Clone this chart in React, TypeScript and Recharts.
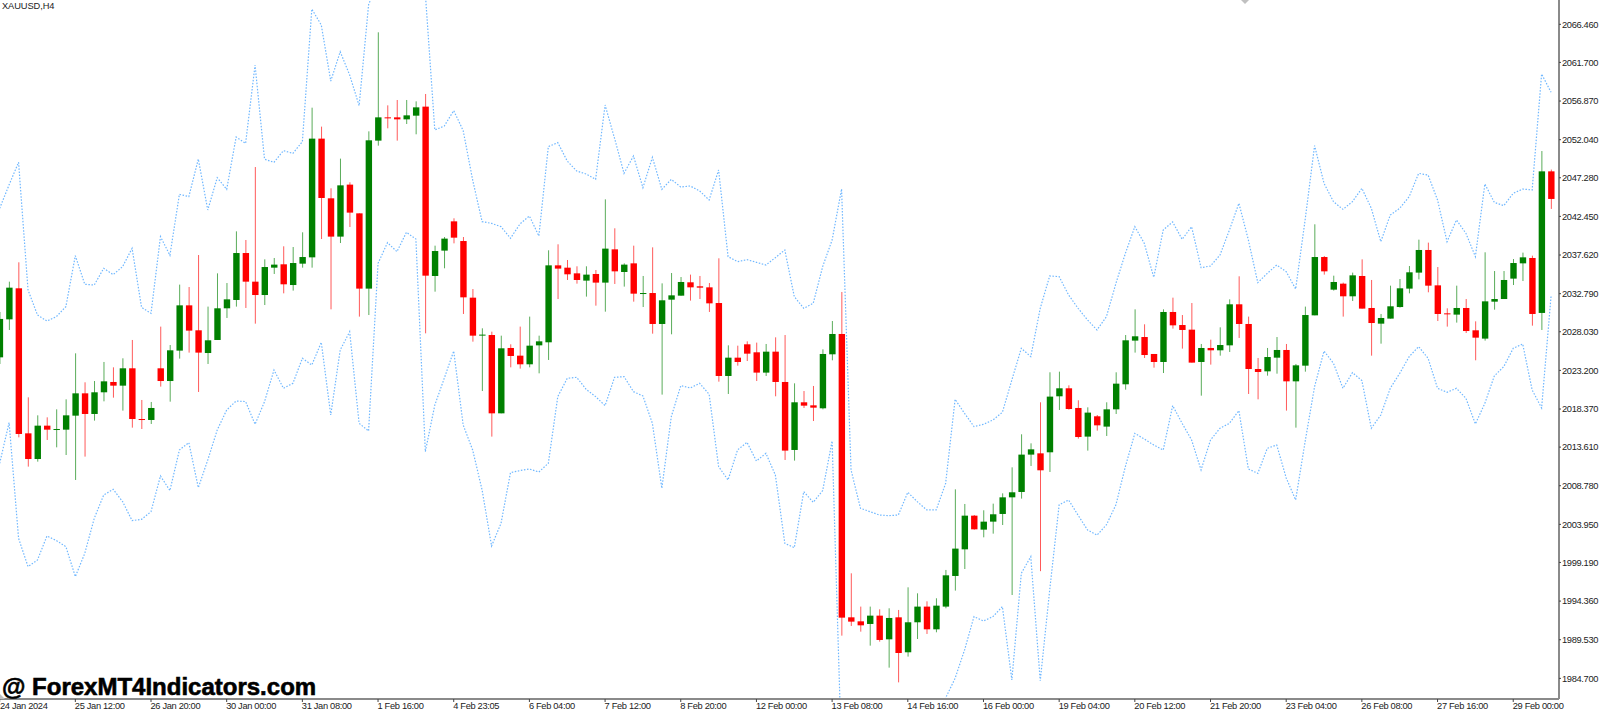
import { Bar, ComposedChart, Line, XAxis, YAxis } from "recharts";

// XAUUSD H4
const OPENS = [
  2024.83, 2029.58, 2033.46, 2015.33, 2012.12, 2016.29, 2015.79, 2015.79, 2017.54, 2020.33,
  2017.75, 2020.46, 2021.75, 2021.29, 2023.46, 2017.12, 2017.0, 2023.46, 2021.87, 2025.67,
  2031.33, 2028.21, 2025.37, 2027.0, 2030.96, 2032.0, 2037.87, 2034.29, 2032.62, 2036.04,
  2036.46, 2033.87, 2036.54, 2037.33, 2052.17, 2044.71, 2039.92, 2046.42, 2042.83, 2033.42,
  2051.92, 2054.83, 2054.83, 2054.58, 2055.04, 2056.17, 2035.0, 2038.17, 2041.83, 2039.37,
  2032.29, 2027.58, 2027.62, 2017.83, 2026.0, 2025.04, 2023.96, 2026.33, 2026.71, 2036.33,
  2036.04, 2035.33, 2034.42, 2035.25, 2034.17, 2038.33, 2035.5, 2036.58, 2032.79, 2032.87,
  2029.0, 2032.04, 2032.54, 2034.21, 2033.71, 2033.58, 2031.62, 2022.5, 2024.79, 2026.46,
  2025.46, 2022.92, 2025.54, 2021.75, 2013.25, 2019.21, 2018.83, 2018.46, 2025.21, 2027.75,
  1992.33, 1991.83, 1991.5, 1992.54, 1989.58, 1992.33, 1987.96, 1991.71, 1993.67, 1990.83,
  1993.67, 1997.5, 2000.83, 2005.04, 2003.29, 2004.29, 2005.25, 2007.33, 2008.0, 2012.67,
  2012.83, 2012.96, 2019.96, 2020.96, 2018.5, 2014.92, 2017.46, 2016.17, 2018.33, 2021.46,
  2026.92, 2027.37, 2025.25, 2024.25, 2030.5, 2028.87, 2028.29, 2024.25, 2026.0, 2025.71,
  2026.33, 2031.46, 2029.0, 2023.37, 2023.08, 2024.79, 2025.75, 2021.83, 2023.79, 2030.08,
  2037.37, 2033.29, 2034.04, 2032.46, 2035.0, 2031.0, 2029.04, 2029.67, 2031.12, 2033.42,
  2035.42, 2038.25, 2033.83, 2030.33, 2030.17, 2031.0, 2028.21, 2027.17, 2031.79, 2032.12,
  2034.67, 2036.58, 2037.25, 2030.38, 2048.08,
];
const HIGHS = [
  2030.5, 2034.29, 2036.71, 2019.83, 2017.58, 2017.33, 2018.33, 2019.58, 2025.33, 2021.71,
  2021.87, 2024.25, 2023.58, 2024.71, 2027.0, 2019.5, 2019.25, 2028.67, 2026.37, 2033.92,
  2033.62, 2037.62, 2031.17, 2035.33, 2034.12, 2040.58, 2039.5, 2048.62, 2037.08, 2037.25,
  2038.71, 2038.62, 2040.46, 2056.04, 2053.67, 2045.96, 2049.67, 2046.71, 2042.83, 2053.08,
  2065.46, 2056.33, 2057.0, 2057.0, 2056.83, 2057.75, 2038.79, 2039.87, 2042.21, 2039.87,
  2033.37, 2028.46, 2028.04, 2027.54, 2026.46, 2028.67, 2029.92, 2027.54, 2038.21, 2038.96,
  2037.0, 2036.21, 2036.21, 2035.75, 2044.58, 2040.96, 2036.58, 2038.79, 2035.0, 2038.58,
  2034.08, 2035.37, 2034.87, 2035.17, 2035.0, 2034.12, 2037.21, 2026.33, 2026.29, 2026.83,
  2026.67, 2026.5, 2027.33, 2027.62, 2021.58, 2020.62, 2021.25, 2025.83, 2029.37, 2033.0,
  1997.83, 1993.67, 1993.67, 1993.33, 1993.46, 1993.25, 1996.08, 1995.33, 1994.33, 1994.71,
  1998.25, 2008.33, 2006.5, 2005.12, 2005.71, 2006.54, 2007.83, 2011.08, 2015.21, 2014.08,
  2019.21, 2022.96, 2023.04, 2021.33, 2019.46, 2018.58, 2017.62, 2019.21, 2022.96, 2027.62,
  2030.83, 2028.96, 2025.25, 2030.83, 2032.29, 2030.12, 2031.62, 2026.5, 2027.04, 2028.58,
  2032.08, 2034.96, 2029.92, 2024.75, 2026.0, 2027.37, 2026.5, 2024.0, 2031.17, 2041.46,
  2037.5, 2035.04, 2034.17, 2035.42, 2037.08, 2034.5, 2030.25, 2033.79, 2034.62, 2036.25,
  2039.54, 2039.17, 2036.12, 2030.96, 2033.79, 2032.12, 2029.33, 2037.96, 2035.62, 2035.62,
  2037.12, 2037.92, 2037.54, 2050.62, 2048.3,
];
const LOWS = [
  2024.0, 2028.25, 2014.83, 2011.17, 2011.79, 2014.5, 2013.58, 2012.62, 2009.5, 2012.42,
  2016.92, 2019.33, 2019.79, 2018.17, 2016.04, 2015.87, 2016.5, 2021.17, 2019.29, 2024.67,
  2025.42, 2020.5, 2024.0, 2027.0, 2029.75, 2031.17, 2031.0, 2029.04, 2031.37, 2035.25,
  2032.83, 2033.17, 2036.04, 2036.04, 2039.62, 2030.83, 2039.12, 2041.12, 2029.92, 2030.12,
  2051.29, 2053.46, 2051.92, 2054.0, 2052.71, 2027.83, 2033.04, 2035.96, 2039.08, 2030.25,
  2026.79, 2020.62, 2014.92, 2017.83, 2023.58, 2023.42, 2023.58, 2022.83, 2024.5, 2032.12,
  2034.5, 2034.04, 2032.42, 2031.29, 2030.54, 2034.0, 2033.67, 2031.79, 2031.12, 2027.79,
  2020.17, 2027.71, 2032.54, 2031.92, 2032.12, 2030.5, 2021.79, 2020.25, 2023.79, 2024.37,
  2021.87, 2022.5, 2019.96, 2012.0, 2011.92, 2018.5, 2016.87, 2018.33, 2024.46, 1990.04,
  1991.25, 1990.54, 1988.79, 1989.29, 1986.04, 1984.2, 1987.42, 1989.62, 1990.25, 1990.46,
  1993.46, 1995.67, 1998.37, 2003.29, 2002.33, 2002.79, 2003.87, 1995.12, 2007.17, 2011.25,
  1998.1, 2010.5, 2018.25, 2018.29, 2014.67, 2013.17, 2015.67, 2015.0, 2017.75, 2020.79,
  2025.42, 2024.75, 2023.54, 2022.87, 2028.42, 2025.92, 2024.17, 2020.04, 2023.92, 2025.04,
  2025.5, 2027.25, 2020.25, 2019.58, 2022.54, 2022.79, 2018.17, 2016.04, 2023.04, 2030.08,
  2035.17, 2033.17, 2029.92, 2031.87, 2030.92, 2025.04, 2026.54, 2029.67, 2031.04, 2032.83,
  2034.58, 2032.96, 2029.37, 2028.67, 2029.17, 2027.87, 2024.46, 2026.92, 2030.79, 2032.12,
  2033.87, 2034.37, 2028.79, 2028.25, 2043.38,
];
const CLOSES = [
  2029.63, 2033.54, 2015.25, 2012.12, 2016.29, 2015.79, 2015.87, 2017.58, 2020.33, 2017.75,
  2020.46, 2021.83, 2021.29, 2023.46, 2017.12, 2017.04, 2018.5, 2021.87, 2025.71, 2031.33,
  2028.17, 2025.42, 2026.96, 2030.96, 2032.08, 2037.87, 2034.29, 2032.62, 2036.12, 2036.42,
  2033.96, 2036.62, 2037.37, 2052.17, 2044.75, 2039.92, 2046.33, 2042.92, 2033.42, 2051.96,
  2054.83, 2054.79, 2054.58, 2055.08, 2056.08, 2035.04, 2038.12, 2039.67, 2039.79, 2032.33,
  2027.54, 2027.67, 2017.83, 2025.96, 2025.0, 2023.96, 2026.29, 2026.83, 2036.33, 2035.92,
  2035.21, 2034.5, 2035.17, 2034.17, 2038.42, 2035.58, 2036.42, 2032.79, 2032.87, 2029.0,
  2031.96, 2032.58, 2034.25, 2033.58, 2033.54, 2031.58, 2022.5, 2024.79, 2024.25, 2025.29,
  2022.92, 2025.54, 2021.75, 2013.17, 2019.21, 2018.79, 2018.54, 2025.25, 2027.75, 1992.29,
  1991.79, 1991.33, 1992.54, 1989.5, 1992.25, 1987.87, 1991.71, 1993.67, 1990.83, 1993.79,
  1997.58, 2000.92, 2005.04, 2003.33, 2004.29, 2005.21, 2007.33, 2007.96, 2012.67, 2013.33,
  2010.71, 2019.92, 2020.96, 2018.37, 2014.87, 2017.92, 2016.33, 2018.33, 2021.54, 2026.96,
  2027.46, 2025.12, 2024.25, 2030.5, 2028.83, 2028.25, 2024.17, 2026.0, 2025.71, 2026.37,
  2031.46, 2029.0, 2023.37, 2023.0, 2024.87, 2025.75, 2021.83, 2023.83, 2030.12, 2037.37,
  2035.58, 2034.25, 2032.46, 2035.08, 2030.92, 2029.12, 2029.75, 2031.21, 2033.46, 2035.46,
  2038.25, 2033.79, 2030.25, 2030.21, 2031.0, 2028.12, 2027.29, 2031.83, 2032.12, 2034.5,
  2036.62, 2037.33, 2030.25, 2048.08, 2044.63,
];
const UPPER = [
  2043.46, 2046.4, 2049.21, 2033.25, 2030.12, 2029.37, 2029.92, 2031.17, 2037.54, 2033.96,
  2033.87, 2035.96, 2035.17, 2036.17, 2038.46, 2031.08, 2030.33, 2039.92, 2037.58, 2045.21,
  2044.92, 2049.62, 2043.25, 2047.29, 2045.83, 2052.37, 2051.58, 2061.37, 2049.6, 2049.21,
  2050.67, 2050.33, 2051.79, 2068.37, 2066.37, 2059.37, 2063.04, 2060.12, 2056.29, 2068.9,
  2072.0, 2075.0, 2076.0, 2075.0, 2073.0, 2070.3, 2053.25, 2053.75, 2055.67, 2053.17,
  2047.0, 2041.79, 2041.58, 2041.17, 2039.71, 2041.5, 2042.5, 2040.0, 2051.17, 2051.67,
  2049.37, 2048.12, 2047.75, 2047.08, 2056.37, 2052.21, 2047.83, 2050.0, 2046.04, 2049.83,
  2045.83, 2047.08, 2046.12, 2046.25, 2045.62, 2044.5, 2048.25, 2037.42, 2036.79, 2037.04,
  2036.71, 2036.37, 2037.29, 2038.25, 2032.42, 2030.96, 2031.58, 2036.17, 2039.5, 2045.87,
  2010.75, 2005.96, 2005.54, 2005.12, 2005.04, 2005.12, 2007.96, 2006.79, 2005.75, 2005.75,
  2009.08, 2019.58, 2017.83, 2016.17, 2016.46, 2017.0, 2017.96, 2022.0, 2025.96, 2024.92,
  2030.96, 2035.0, 2034.92, 2032.62, 2030.96, 2029.5, 2028.25, 2029.92, 2034.08, 2037.83,
  2041.17, 2039.08, 2034.83, 2040.75, 2041.75, 2039.58, 2041.17, 2036.04, 2036.25, 2037.62,
  2040.75, 2044.08, 2039.5, 2034.17, 2035.33, 2036.37, 2035.54, 2033.37, 2042.0, 2051.29,
  2046.58, 2044.29, 2043.33, 2044.29, 2045.96, 2043.46, 2039.29, 2042.62, 2043.46, 2044.92,
  2047.83, 2047.62, 2044.5, 2039.29, 2042.0, 2040.33, 2037.42, 2046.5, 2044.21, 2043.79,
  2045.33, 2045.87, 2045.75, 2060.25, 2057.96,
];
const LOWER = [
  2011.58, 2016.67, 2002.21, 1998.67, 1999.5, 2002.5, 2001.92, 2001.17, 1997.42, 2000.33,
  2004.71, 2007.62, 2008.33, 2006.79, 2004.42, 2004.58, 2005.54, 2010.0, 2008.17, 2013.25,
  2014.17, 2008.54, 2012.0, 2015.75, 2018.25, 2019.37, 2019.3, 2016.46, 2019.29, 2023.25,
  2020.96, 2021.58, 2024.71, 2023.87, 2026.71, 2017.62, 2025.75, 2028.04, 2016.58, 2015.62,
  2036.58, 2039.17, 2038.04, 2040.46, 2039.62, 2013.04, 2018.87, 2022.21, 2025.62, 2016.37,
  2013.25, 2008.25, 2001.25, 2004.08, 2010.42, 2010.67, 2010.87, 2010.5, 2011.58, 2019.92,
  2022.21, 2022.33, 2020.83, 2019.92, 2018.79, 2022.33, 2022.42, 2020.54, 2020.0, 2016.58,
  2008.46, 2017.42, 2021.29, 2021.0, 2021.58, 2020.21, 2011.17, 2009.5, 2013.25, 2014.21,
  2011.87, 2012.83, 2010.12, 2001.58, 2001.04, 2008.04, 2006.71, 2008.17, 2014.37, 1975.0,
  1978.0, 1975.0, 1973.0, 1972.0, 1971.0, 1972.0, 1974.0, 1976.0, 1978.0, 1980.0,
  1982.25, 1984.71, 1988.25, 1992.42, 1991.87, 1992.42, 1993.67, 1984.5, 1997.83, 1999.92,
  1984.4, 1995.75, 2006.4, 2007.0, 2005.1, 2003.25, 2002.6, 2003.9, 2006.4, 2011.17,
  2015.33, 2014.62, 2013.87, 2013.25, 2018.79, 2016.58, 2014.5, 2010.75, 2014.5, 2015.96,
  2016.58, 2018.17, 2010.87, 2010.33, 2013.46, 2013.87, 2009.75, 2007.0, 2014.29, 2021.17,
  2025.62, 2024.08, 2020.96, 2022.92, 2021.92, 2015.96, 2017.62, 2020.96, 2022.83, 2024.92,
  2026.17, 2024.71, 2020.96, 2020.46, 2020.96, 2019.71, 2016.5, 2019.08, 2022.5, 2023.67,
  2025.96, 2026.5, 2020.75, 2018.5, 2032.5,
];

const TIME_LABELS = [
  "24 Jan 2024", "25 Jan 12:00", "26 Jan 20:00", "30 Jan 00:00", "31 Jan 08:00", "1 Feb 16:00", "4 Feb 23:05",
  "6 Feb 04:00", "7 Feb 12:00", "8 Feb 20:00", "12 Feb 00:00", "13 Feb 08:00", "14 Feb 16:00", "16 Feb 00:00",
  "19 Feb 04:00", "20 Feb 12:00", "21 Feb 20:00", "23 Feb 04:00", "26 Feb 08:00", "27 Feb 16:00", "29 Feb 00:00",
];
const PRICE_TICKS = [
  2066.46, 2061.7, 2056.87, 2052.04, 2047.28, 2042.45, 2037.62, 2032.79, 2028.03, 2023.2,
  2018.37, 2013.61, 2008.78, 2003.95, 1999.19, 1994.36, 1989.53, 1984.7,
];

const FONT = "'Liberation Sans', sans-serif";
const BULL = "#008000";
const BEAR = "#ff0000";
const BAND = "#6fb7ff";

const rows = OPENS.map((open, i) => ({
  i,
  open,
  close: CLOSES[i],
  high: HIGHS[i],
  low: LOWS[i],
  range: [LOWS[i], HIGHS[i]],
  upper: UPPER[i],
  lower: LOWER[i],
}));

// eslint-disable-next-line @typescript-eslint/no-explicit-any
function Candle(props: any) {
  const { x, y, width, height, payload } = props;
  const { open, close, high, low } = payload;
  const color = close >= open ? BULL : BEAR;
  const perUnit = height / (high - low);
  const top = y + (high - Math.max(open, close)) * perUnit;
  const bodyH = Math.max(Math.abs(open - close) * perUnit, 1);
  const cx = x + width / 2;
  return (
    <g>
      <line x1={cx} x2={cx} y1={y} y2={y + height} stroke={color} strokeWidth={1} strokeOpacity={0.65} />
      <rect x={cx - 3.2} y={top} width={6.4} height={bodyH} fill={color} />
    </g>
  );
}

const tickText = { fontSize: 9.3, fontFamily: FONT, fill: "#222", letterSpacing: -0.33 };

// eslint-disable-next-line @typescript-eslint/no-explicit-any
function TimeTick({ x, y, payload }: any) {
  return (
    <text x={Math.max(x - 0.5, 0)} y={y + 5} {...tickText}>
      {TIME_LABELS[payload.value / 8]}
    </text>
  );
}

// eslint-disable-next-line @typescript-eslint/no-explicit-any
function PriceTick({ x, y, payload }: any) {
  return (
    <text x={x} y={y + 3.4} {...tickText}>
      {payload.value.toFixed(3)}
    </text>
  );
}

export default function App() {
  return (
    <div style={{ position: "absolute", left: 0, top: 0, width: 1600, height: 712, background: "#fff", overflow: "hidden" }}>
      <ComposedChart
        width={1600}
        height={712}
        data={rows}
        margin={{ top: 0, right: 0, bottom: 0, left: -5.08 }}
        barCategoryGap={0}
      >
        <XAxis
          dataKey="i"
          interval={7}
          padding={{ left: 0, right: 3.2 }}
          tick={<TimeTick />}
          tickSize={3}
          height={13}
          axisLine={{ stroke: "#8a8a8a", strokeWidth: 2 }}
          tickLine={{ stroke: "#444" }}
        />
        <YAxis
          orientation="right"
          width={41}
          domain={[1982.12, 2069.5]}
          ticks={PRICE_TICKS}
          interval={0}
          allowDataOverflow
          tick={<PriceTick />}
          tickSize={2}
          tickMargin={1}
          axisLine={{ stroke: "#8a8a8a", strokeWidth: 2 }}
          tickLine={{ stroke: "#444" }}
        />
        <Line dataKey="upper" stroke={BAND} strokeWidth={1.2} strokeDasharray="1.5 1.6" dot={false} activeDot={false} isAnimationActive={false} />
        <Line dataKey="lower" stroke={BAND} strokeWidth={1.2} strokeDasharray="1.5 1.6" dot={false} activeDot={false} isAnimationActive={false} />
        <Bar dataKey="range" barSize={6} shape={<Candle />} isAnimationActive={false} />
      </ComposedChart>
      <div style={{ position: "absolute", left: 2, top: 0, font: `9.3px ${FONT}`, letterSpacing: -0.1, color: "#222", lineHeight: "12px" }}>XAUUSD,H4</div>
      <div
        style={{
          position: "absolute",
          left: 2,
          top: 673,
          font: `bold 24px 'Liberation Sans', sans-serif`,
          color: "#000",
          lineHeight: "28px",
          WebkitTextStroke: "0.6px #000",
          whiteSpace: "nowrap",
        }}
      >
        @ ForexMT4Indicators.com
      </div>
      <div style={{ position: "absolute", left: 1241, top: 0, width: 8, height: 4, background: "#c0c0c0", clipPath: "polygon(0 0, 100% 0, 50% 100%)" }} />
      <div style={{ position: "absolute", left: 0, top: 694, width: 5, height: 5, background: "#c0c0c0", clipPath: "polygon(0 0, 100% 100%, 0 100%)" }} />
    </div>
  );
}
